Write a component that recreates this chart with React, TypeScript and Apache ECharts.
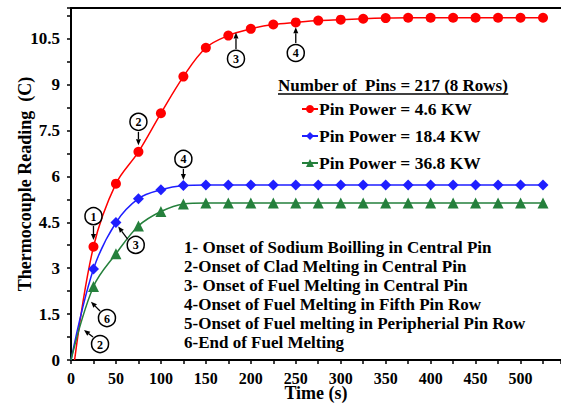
import React, { useEffect, useRef } from "react";
import * as echarts from "echarts";

const times = [25, 50, 75, 100, 125, 150, 175, 200, 225, 250, 275, 300, 325, 350, 375, 400, 425, 450, 475, 500, 525];
const redValues = [3.7, 5.76, 6.8, 8.06, 9.26, 10.2, 10.6, 10.82, 10.96, 11.03, 11.09, 11.12, 11.15, 11.17, 11.18, 11.18, 11.18, 11.18, 11.18, 11.18, 11.18];
const blueValues = [2.97, 4.49, 5.27, 5.56, 5.7, 5.72, 5.72, 5.72, 5.72, 5.72, 5.72, 5.72, 5.72, 5.72, 5.72, 5.72, 5.72, 5.72, 5.72, 5.72, 5.72];
const greenValues = [2.4, 3.47, 4.38, 4.85, 5.1, 5.13, 5.13, 5.13, 5.13, 5.13, 5.13, 5.13, 5.13, 5.13, 5.13, 5.13, 5.13, 5.13, 5.13, 5.13, 5.13];
const redStart = [4, 0];
const blueStart = [0, 0];
const greenStart = [0, 0];

const seriesNames = ["Pin Power = 4.6 KW", "Pin Power = 18.4 KW", "Pin Power = 36.8 KW"];
const legendTitle = "Number of  Pins = 217 (8 Rows)";
const notes = [
  "1- Onset of Sodium Boilling in Central Pin",
  "2-Onset of Clad Melting in Central Pin",
  "3- Onset of Fuel Melting in Central Pin",
  "4-Onset of Fuel Melting in Fifth Pin Row",
  "5-Onset of Fuel melting in Peripherial Pin Row",
  "6-End of Fuel Melting",
];

// annotations in data coordinates: label, circle centre, arrow tail, arrow tip
const annotations = [
  { label: "1", circle: [25, 4.7], tail: [25, 4.38], tip: [25, 3.92] },
  { label: "2", circle: [75, 7.78], tail: [75, 7.45], tip: [75, 7.02] },
  { label: "4", circle: [125, 6.57], tail: [125, 6.24], tip: [125, 5.88] },
  { label: "3", circle: [183.5, 9.84], tail: [183.5, 10.16], tip: [183.5, 10.7] },
  { label: "4", circle: [250, 10.03], tail: [250, 10.36], tip: [250, 10.87] },
  { label: "3", circle: [72, 3.76], tail: [63, 3.95], tip: [52.5, 4.36] },
  { label: "6", circle: [40, 1.37], tail: [32.3, 1.6], tip: [22.2, 1.9] },
  { label: "2", circle: [32.3, 0.52], tail: [24.5, 0.75], tip: [14.5, 0.98] },
];

const FONT = "'Liberation Serif', serif";

function buildData(start: number[], values: number[]) {
  const d: any[] = [{ value: start, symbol: "none" }];
  times.forEach((t, i) => d.push([t, values[i]]));
  return d;
}

export default function App() {
  const ref = useRef<HTMLDivElement>(null);
  useEffect(() => {
    if (!ref.current) return;
    const chart = echarts.init(ref.current, null, { renderer: "svg" });
    const lineBase = (name: string, color: string, symbol: string, data: any[], size: number) => ({
      name,
      type: "line",
      data,
      smooth: 0.35,
      symbol,
      symbolSize: size,
      showSymbol: true,
      lineStyle: { color, width: 1.5 },
      itemStyle: { color },
      z: 3,
    });
    const option: any = {
      animation: false,
      backgroundColor: "#ffffff",
      textStyle: { fontFamily: FONT },
      grid: { left: 71, right: 0, top: 8, bottom: 45, containLabel: false, outerBoundsMode: "none" },
      legend: {
        orient: "vertical",
        left: 296,
        top: 95,
        itemGap: 9,
        itemWidth: 16,
        itemHeight: 10,
        data: seriesNames,
        textStyle: { fontFamily: FONT, fontWeight: "bold", fontSize: 17.5, color: "#000", padding: [0, 0, 0, -4] },
      },
      xAxis: [
        {
          type: "value",
          min: 0,
          max: 545,
          interval: 50,
          name: "Time (s)",
          nameLocation: "middle",
          nameGap: 24,
          nameMoveOverlap: false,
          nameTextStyle: { fontFamily: FONT, fontWeight: "bold", fontSize: 18, color: "#000" },
          axisLine: { show: true, onZero: false, lineStyle: { color: "#000", width: 2 } },
          axisTick: { show: true, length: 4, lineStyle: { color: "#000", width: 1.5 } },
          minorTick: { show: true, splitNumber: 2, length: 4, lineStyle: { color: "#000", width: 1.5 } },
          axisLabel: { fontFamily: FONT, fontWeight: "bold", fontSize: 16, color: "#000", margin: 10, showMaxLabel: false },
          splitLine: { show: false },
        },
        {
          type: "value",
          position: "top",
          min: 0,
          max: 545,
          axisLine: { show: true, onZero: false, lineStyle: { color: "#000", width: 2 } },
          axisTick: { show: false },
          axisLabel: { show: false },
          splitLine: { show: false },
        },
      ],
      yAxis: {
        type: "value",
        min: 0,
        max: 11.5,
        interval: 1.5,
        name: "Thermocouple Reading  (C)",
        nameLocation: "middle",
        nameGap: 37,
        nameMoveOverlap: false,
        nameTextStyle: { fontFamily: FONT, fontWeight: "bold", fontSize: 18, color: "#000" },
        axisLine: { show: true, onZero: false, lineStyle: { color: "#000", width: 2 } },
        axisTick: { show: true, length: 4, lineStyle: { color: "#000", width: 1.5 } },
        minorTick: { show: true, splitNumber: 2, length: 4, lineStyle: { color: "#000", width: 1.5 } },
        axisLabel: { fontFamily: FONT, fontWeight: "bold", fontSize: 17, color: "#000", margin: 11, showMaxLabel: false },
        splitLine: { show: false },
      },
      series: [
        lineBase(seriesNames[0], "#ff0000", "circle", buildData(redStart, redValues), 10),
        lineBase(seriesNames[1], "#1f1fff", "diamond", buildData(blueStart, blueValues), 11),
        lineBase(seriesNames[2], "#25803c", "triangle", buildData(greenStart, greenValues), 11),
      ],
    };
    chart.setOption(option);

    const toPx = (p: number[]) => chart.convertToPixel({ seriesIndex: 0 }, p) as number[];
    const graphics: any[] = [];
    annotations.forEach((a) => {
      const c = toPx(a.circle);
      const t = toPx(a.tail);
      const h = toPx(a.tip);
      const dx = h[0] - t[0];
      const dy = h[1] - t[1];
      const len = Math.sqrt(dx * dx + dy * dy) || 1;
      const ux = dx / len;
      const uy = dy / len;
      const hl = 6;
      const hw = 2.5;
      const bx = h[0] - ux * hl;
      const by = h[1] - uy * hl;
      graphics.push({
        type: "line",
        shape: { x1: t[0], y1: t[1], x2: bx, y2: by },
        style: { stroke: "#000", lineWidth: 1.3 },
        z: 10,
      });
      graphics.push({
        type: "polygon",
        shape: { points: [[h[0], h[1]], [bx - uy * hw, by + ux * hw], [bx + uy * hw, by - ux * hw]] },
        style: { fill: "#000" },
        z: 10,
      });
      graphics.push({
        type: "circle",
        shape: { cx: c[0], cy: c[1], r: 8.5 },
        style: { fill: "#fff", stroke: "#000", lineWidth: 1.5 },
        z: 10,
      });
      graphics.push({
        type: "text",
        x: c[0],
        y: c[1] + 0.5,
        style: {
          text: a.label,
          fill: "#000",
          font: `bold 12px ${FONT}`,
          align: "center",
          verticalAlign: "middle",
        },
        z: 11,
      });
    });

    // legend title with underline
    const titleFont = `bold 17px ${FONT}`;
    let tw = 229;
    try {
      const cv = document.createElement("canvas").getContext("2d");
      if (cv) {
        cv.font = titleFont;
        tw = cv.measureText(legendTitle).width;
      }
    } catch (e) {}
    const tx = 278;
    const ty = 85;
    graphics.push({
      type: "text",
      x: tx,
      y: ty,
      style: { text: legendTitle, fill: "#000", font: titleFont, align: "left", verticalAlign: "middle" },
      z: 10,
    });
    graphics.push({
      type: "line",
      shape: { x1: tx, y1: ty + 9, x2: tx + tw, y2: ty + 9 },
      style: { stroke: "#000", lineWidth: 1.3 },
      z: 10,
    });

    notes.forEach((n, i) => {
      graphics.push({
        type: "text",
        x: 184,
        y: 247 + i * 19,
        style: { text: n, fill: "#000", font: `bold 17px ${FONT}`, align: "left", verticalAlign: "middle" },
        z: 10,
      });
    });

    chart.setOption({ graphic: graphics });
    return () => chart.dispose();
  }, []);
  return <div ref={ref} style={{ width: 561, height: 405, position: "absolute", left: 0, top: 0 }} />;
}
